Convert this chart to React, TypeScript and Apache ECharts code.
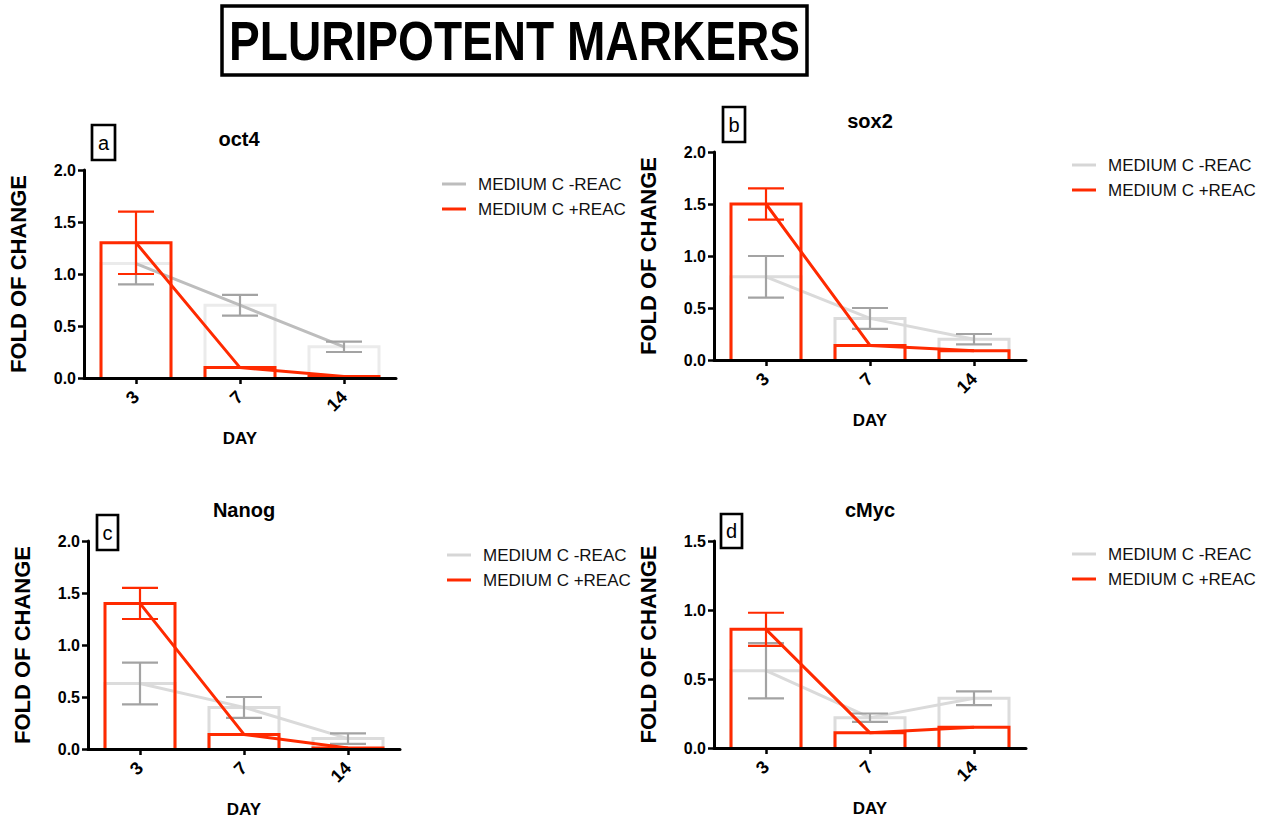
import React, { useEffect, useRef } from 'react';
import * as echarts from 'echarts';

const FONT = '"Liberation Sans", Arial, Helvetica, sans-serif';

// Shared categories and legend names
const days = ['3', '7', '14'];
const seriesNames = ['MEDIUM C -REAC', 'MEDIUM C +REAC'];
const yTicks2 = [0, 0.5, 1.0, 1.5, 2.0];
const yTicks15 = [0, 0.5, 1.0, 1.5];

// oct4
const oct4Minus = [1.1, 0.7, 0.3];
const oct4MinusSem = [0.2, 0.1, 0.05];
const oct4Plus = [1.3, 0.1, 0.015];
const oct4PlusSem = [0.3, 0, 0];

// sox2
const sox2Minus = [0.8, 0.4, 0.2];
const sox2MinusSem = [0.2, 0.1, 0.05];
const sox2Plus = [1.5, 0.14, 0.09];
const sox2PlusSem = [0.15, 0, 0];

// Nanog
const nanogMinus = [0.63, 0.4, 0.1];
const nanogMinusSem = [0.2, 0.1, 0.05];
const nanogPlus = [1.4, 0.14, 0.01];
const nanogPlusSem = [0.15, 0, 0];

// cMyc
const cmycMinus = [0.56, 0.22, 0.36];
const cmycMinusSem = [0.2, 0.03, 0.05];
const cmycPlus = [0.86, 0.11, 0.15];
const cmycPlusSem = [0.12, 0, 0];

const RED = '#ff2a00';
const ERR_GRAY = '#a3a3a3';
const BAR_HALF = 35;

const panels = [
  {
    gene: 'oct4', letter: 'a', yTicks: yTicks2,
    minus: oct4Minus, minusSem: oct4MinusSem, plus: oct4Plus, plusSem: oct4PlusSem,
    grid: { left: 84, top: 170, width: 312, height: 208 },
    titlePos: [239, 139], box: [92, 125, 23, 35], legendPos: [442, 184],
    lineGray: '#bdbdbd', barGray: '#ebebeb', legendGray: '#bdbdbd',
  },
  {
    gene: 'sox2', letter: 'b', yTicks: yTicks2,
    minus: sox2Minus, minusSem: sox2MinusSem, plus: sox2Plus, plusSem: sox2PlusSem,
    grid: { left: 714, top: 152, width: 312, height: 208 },
    titlePos: [870, 121], box: [723, 107, 22, 35], legendPos: [1072, 165],
    lineGray: '#dadada', barGray: '#dcdcdc', legendGray: '#d6d6d6',
  },
  {
    gene: 'Nanog', letter: 'c', yTicks: yTicks2,
    minus: nanogMinus, minusSem: nanogMinusSem, plus: nanogPlus, plusSem: nanogPlusSem,
    grid: { left: 88, top: 541, width: 312, height: 208 },
    titlePos: [244, 510], box: [97, 515, 21, 35], legendPos: [447, 555],
    lineGray: '#dadada', barGray: '#dcdcdc', legendGray: '#d6d6d6',
  },
  {
    gene: 'cMyc', letter: 'd', yTicks: yTicks15,
    minus: cmycMinus, minusSem: cmycMinusSem, plus: cmycPlus, plusSem: cmycPlusSem,
    grid: { left: 714, top: 541, width: 312, height: 207 },
    titlePos: [870, 510], box: [721, 514, 21, 34], legendPos: [1072, 554],
    lineGray: '#dadada', barGray: '#dcdcdc', legendGray: '#d6d6d6',
  },
];

// Open-bottom bars (three sides), standing on the category axis
function barSeries(idx: number, name: string, values: number[], color: string, z: number) {
  return {
    type: 'custom',
    name,
    xAxisIndex: idx,
    yAxisIndex: idx,
    z,
    silent: true,
    encode: { x: 0, y: 1 },
    data: values.map((v, i) => [i, v]),
    renderItem: (params: any, api: any) => {
      const c = api.value(0);
      const top = api.coord([c, api.value(1)]);
      const base = api.coord([c, 0]);
      return {
        type: 'polyline',
        shape: {
          points: [
            [top[0] - BAR_HALF, base[1]],
            [top[0] - BAR_HALF, top[1]],
            [top[0] + BAR_HALF, top[1]],
            [top[0] + BAR_HALF, base[1]],
          ],
        },
        style: { stroke: color, lineWidth: 3, fill: 'none', lineJoin: 'miter' },
      };
    },
  };
}

function errorSeries(idx: number, name: string, mean: number[], sem: number[], color: string, z: number) {
  return {
    type: 'custom',
    name,
    xAxisIndex: idx,
    yAxisIndex: idx,
    z,
    silent: true,
    encode: { x: 0, y: [1, 2] },
    data: mean.map((m, i) => [i, m - sem[i], m + sem[i]]).filter((d, i) => sem[i] > 0),
    renderItem: (params: any, api: any) => {
      const c = api.value(0);
      const lo = api.coord([c, api.value(1)]);
      const hi = api.coord([c, api.value(2)]);
      const hw = 18;
      const style = { stroke: color, lineWidth: 2.2 };
      return {
        type: 'group',
        children: [
          { type: 'line', shape: { x1: hi[0], y1: hi[1], x2: lo[0], y2: lo[1] }, style },
          { type: 'line', shape: { x1: hi[0] - hw, y1: hi[1], x2: hi[0] + hw, y2: hi[1] }, style },
          { type: 'line', shape: { x1: lo[0] - hw, y1: lo[1], x2: lo[0] + hw, y2: lo[1] }, style },
        ],
      };
    },
  };
}

function buildOption() {
  const grids: any[] = [];
  const xAxes: any[] = [];
  const yAxes: any[] = [];
  const series: any[] = [];
  const legends: any[] = [];
  const graphics: any[] = [];

  panels.forEach((p, i) => {
    grids.push({ ...p.grid, containLabel: false });
    xAxes.push({
      type: 'category',
      gridIndex: i,
      z: 10,
      data: days,
      name: 'DAY',
      nameLocation: 'middle',
      nameGap: 52,
      nameTextStyle: { fontFamily: FONT, fontWeight: 'bold', fontSize: 17, color: '#000' },
      axisLine: { show: true, lineStyle: { color: '#000', width: 3 } },
      axisTick: { show: true, alignWithLabel: true, length: 6, lineStyle: { color: '#000', width: 2.5 } },
      axisLabel: { rotate: 45, margin: 16, fontFamily: FONT, fontWeight: 'bold', fontSize: 18, color: '#000' },
      splitLine: { show: false },
    });
    const ticks = p.yTicks;
    yAxes.push({
      type: 'value',
      gridIndex: i,
      z: 10,
      min: ticks[0],
      max: ticks[ticks.length - 1],
      interval: ticks[1] - ticks[0],
      name: 'FOLD OF CHANGE',
      nameLocation: 'middle',
      nameRotate: 90,
      nameGap: 55,
      nameTextStyle: { fontFamily: FONT, fontWeight: 'bold', fontSize: 22, color: '#000' },
      axisLine: { show: true, lineStyle: { color: '#000', width: 3 } },
      axisTick: { show: true, length: 6, lineStyle: { color: '#000', width: 2.5 } },
      axisLabel: {
        margin: 8, fontFamily: FONT, fontWeight: 'bold', fontSize: 16, color: '#000',
        formatter: (v: number) => v.toFixed(1),
      },
      splitLine: { show: false },
    });

    series.push(barSeries(i, seriesNames[0], p.minus, p.barGray, 2));
    series.push({
      type: 'line', name: seriesNames[0], xAxisIndex: i, yAxisIndex: i, z: 3,
      symbol: 'none', silent: true,
      lineStyle: { color: p.lineGray, width: 3 },
      data: p.minus,
    });
    series.push(errorSeries(i, seriesNames[0], p.minus, p.minusSem, ERR_GRAY, 4));
    series.push(barSeries(i, seriesNames[1], p.plus, RED, 5));
    series.push({
      type: 'line', name: seriesNames[1], xAxisIndex: i, yAxisIndex: i, z: 6,
      symbol: 'none', silent: true,
      lineStyle: { color: RED, width: 3 },
      data: p.plus,
    });
    series.push(errorSeries(i, seriesNames[1], p.plus, p.plusSem, RED, 7));

    legends.push({
      orient: 'vertical',
      left: p.legendPos[0],
      top: p.legendPos[1] - 8.5,
      padding: 0,
      itemGap: 8,
      itemWidth: 24,
      itemHeight: 3,
      icon: 'rect',
      selectedMode: false,
      textStyle: { fontFamily: FONT, fontSize: 17, color: '#111', padding: [0, 0, 0, 7] },
      data: [
        { name: seriesNames[0], icon: 'rect', itemStyle: { color: p.legendGray, borderWidth: 0 } },
        { name: seriesNames[1], icon: 'rect', itemStyle: { color: RED, borderWidth: 0 } },
      ],
    });

    // panel title
    graphics.push({
      type: 'text', x: p.titlePos[0], y: p.titlePos[1],
      style: { text: p.gene, fontFamily: FONT, fontWeight: 'bold', fontSize: 20, fill: '#000', align: 'center', verticalAlign: 'middle' },
    });
    // panel letter in a box
    const [bx, by, bw, bh] = p.box;
    graphics.push({
      type: 'rect', shape: { x: bx, y: by, width: bw, height: bh },
      style: { fill: '#fff', stroke: '#000', lineWidth: 2.7 },
    });
    graphics.push({
      type: 'text', x: bx + bw / 2, y: by + bh / 2,
      style: { text: p.letter, fontFamily: FONT, fontSize: 20, fill: '#000', align: 'center', verticalAlign: 'middle' },
    });
  });

  // main heading
  graphics.push({
    type: 'rect', shape: { x: 222, y: 6, width: 585, height: 69 },
    style: { fill: '#fff', stroke: '#000', lineWidth: 3.5 },
  });
  graphics.push({
    type: 'text', x: 514.5, y: 41, scaleX: 0.823,
    style: { text: 'PLURIPOTENT MARKERS', fontFamily: FONT, fontWeight: 'bold', fontSize: 56, fill: '#000', align: 'center', verticalAlign: 'middle' },
  });

  return {
    animation: false,
    backgroundColor: '#fff',
    grid: grids,
    xAxis: xAxes,
    yAxis: yAxes,
    legend: legends,
    series,
    graphic: graphics,
  };
}

export default function App() {
  const ref = useRef<HTMLDivElement>(null);
  useEffect(() => {
    if (!ref.current) return;
    const chart = echarts.init(ref.current, undefined, { renderer: 'svg' });
    chart.setOption(buildOption() as any);
    return () => chart.dispose();
  }, []);
  return (
    <div
      ref={ref}
      style={{ position: 'absolute', left: 0, top: 0, width: 1265, height: 819, background: '#fff' }}
    />
  );
}
